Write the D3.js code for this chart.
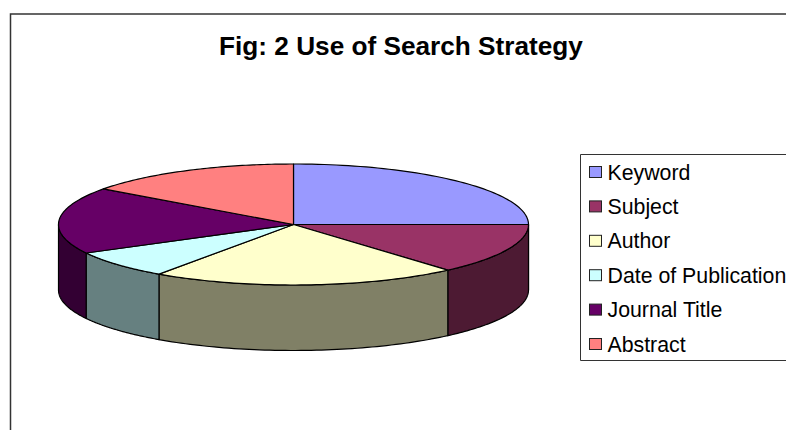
<!DOCTYPE html>
<html>
<head>
<meta charset="utf-8">
<script src="https://cdn.jsdelivr.net/npm/d3@7"></script>
<style>
  html, body { margin: 0; padding: 0; background: #fff; }
  text { font-family: "Liberation Sans", Arial, sans-serif; fill: #000; }
</style>
</head>
<body>
<div id="chart"></div>
<script>
// Fig 2: 3D pie, faked with an ellipse and darker side walls

const categories = ["Keyword", "Subject", "Author", "Date of Publication", "Journal Title", "Abstract"];
const shares = [25, 13.6, 21.1, 7.5, 17.8, 15];
const topColors = ["#9999ff", "#993366", "#ffffcc", "#ccffff", "#660066", "#ff8080"];
const wallColors = ["#4d4d80", "#4d1a33", "#808066", "#668080", "#330033", "#804040"];

const width = 786, height = 430;
const cx = 293.5, cy = 224.5, rx = 235, ry = 60.5, depth = 65.5;

const svg = d3.select("#chart")
  .append("svg")
    .attr("width", width)
    .attr("height", height)
    .style("display", "block");

// Outer frame, only top and left fall inside the window
svg.append("path")
  .attr("d", "M10.5,430V14H786")
  .attr("fill", "none")
  .attr("stroke", "#333")
  .attr("stroke-width", 1.5);

svg.append("text")
  .attr("x", 401)
  .attr("y", 55)
  .attr("text-anchor", "middle")
  .style("font-size", "26.2px")
  .style("font-weight", "bold")
  .text("Fig: 2 Use of Search Strategy");

// Scales map the unit circle onto the squashed ellipse
const x = d3.scaleLinear().domain([-1, 1]).range([cx - rx, cx + rx]);
const y = d3.scaleLinear().domain([-1, 1]).range([cy - ry, cy + ry]);

const pie = d3.pie().sort(null).value(d => d);
const slices = pie(shares);

const rim = d3.line()
  .x(d => x(Math.sin(d.a)))
  .y(d => y(-Math.cos(d.a)) + d.h);

function rimPoints(a0, a1, h) {
  return d3.range(0, 61).map(i => ({ a: a0 + (a1 - a0) * i / 60, h: h }));
}

// Side walls, only the front half of the pie can be seen
slices.forEach((s, i) => {
  const a0 = Math.max(s.startAngle, Math.PI / 2);
  const a1 = Math.min(s.endAngle, Math.PI * 3 / 2);
  if (a1 <= a0) return;
  const pts = rimPoints(a0, a1, 0).concat(rimPoints(a1, a0, depth));
  svg.append("path")
    .attr("d", rim(pts) + "Z")
    .attr("fill", wallColors[i])
    .attr("stroke", "#000")
    .attr("stroke-width", 1.2)
    .attr("stroke-linejoin", "round");
});

// Top faces
slices.forEach((s, i) => {
  svg.append("path")
    .attr("d", `M${x(0)},${y(0)}L` + rim(rimPoints(s.startAngle, s.endAngle, 0)).slice(1) + "Z")
    .attr("fill", topColors[i])
    .attr("stroke", "#000")
    .attr("stroke-width", 1.2)
    .attr("stroke-linejoin", "round");
});

// Legend
svg.append("path")
  .attr("d", "M786,154.5H580.5V360.5H786")
  .attr("fill", "#fff")
  .attr("stroke", "#333")
  .attr("stroke-width", 1);

const row = d3.scalePoint().domain(categories).range([172, 344]);

const legend = svg.selectAll(".legend-row")
  .data(categories)
  .enter()
  .append("g")
    .attr("class", "legend-row")
    .attr("transform", d => `translate(0,${row(d)})`);

legend.append("rect")
  .attr("x", 589.5)
  .attr("y", -5.5)
  .attr("width", 12)
  .attr("height", 11)
  .attr("fill", (d, i) => topColors[i])
  .attr("stroke", "#222")
  .attr("stroke-width", 1);

legend.append("text")
  .attr("x", 607.5)
  .attr("y", 7.5)
  .style("font-size", "21.3px")
  .text(d => d);
</script>
</body>
</html>
